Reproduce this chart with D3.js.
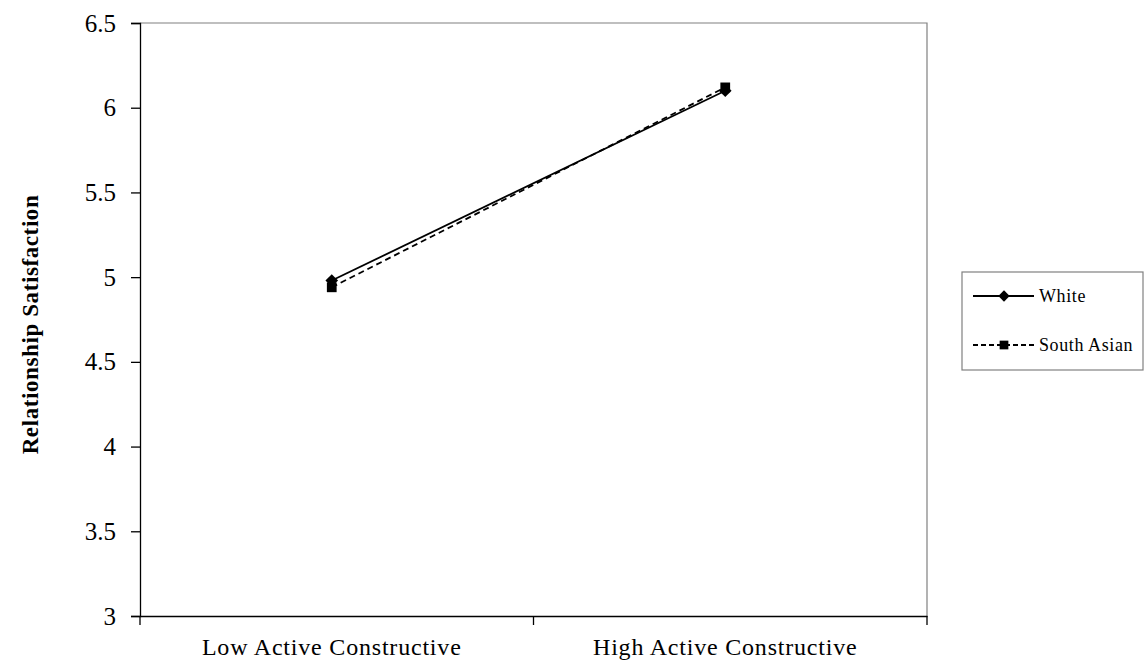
<!DOCTYPE html>
<html><head><meta charset="utf-8">
<script src="https://cdn.jsdelivr.net/npm/d3@7"></script>
<style>body{margin:0;background:#fff}svg{display:block}</style>
</head><body><svg id="c" width="1145" height="666"></svg>
<script>
const categories = ["Low Active Constructive", "High Active Constructive"];
const seriesNames = ["White", "South Asian"];
const whiteValues = [4.98, 6.10];
const southAsianValues = [4.94, 6.12];
const yTicks = [3, 3.5, 4, 4.5, 5, 5.5, 6, 6.5];
const yTitle = "Relationship Satisfaction";

const svg = d3.select("#c");
const L = 140, R = 927, T = 23, B = 616;
const font = "'Liberation Serif','Times New Roman',serif";

const x = d3.scaleBand().domain(categories).range([L, R]).paddingInner(0).paddingOuter(0);
const y = d3.scaleLinear().domain([3, 6.5]).range([B, T]);
const xc = c => x(c) + x.bandwidth() / 2 - 5;

// plot area border (top/right gray)
svg.append("path").attr("d", `M${L},${T}H${R}V${B}`).attr("fill","none").attr("stroke","#808080").attr("stroke-width",1.2);

// y axis
const yAxis = d3.axisLeft(y).tickValues(yTicks).tickSize(9).tickPadding(15)
  .tickFormat(d => String(d));
const gy = svg.append("g").attr("transform", `translate(${L},0)`).call(yAxis);
gy.select(".domain").attr("stroke","#000").attr("stroke-width",1.3);
gy.selectAll(".tick line").attr("stroke","#000").attr("stroke-width",1.3);
gy.selectAll(".tick text").attr("font-family", font).attr("font-size", 25).attr("fill","#000");

// x axis
const xAxis = d3.axisBottom(x).tickSize(0).tickPadding(0);
const gx = svg.append("g").attr("transform", `translate(0,${B})`).call(xAxis);
gx.select(".domain").attr("stroke","#000").attr("stroke-width",1.3);
gx.selectAll(".tick text").attr("font-family", font).attr("font-size", 24).attr("fill","#000")
  .attr("letter-spacing", 0.8).attr("dy", null).attr("y", 39).attr("x", -5);
// category boundary ticks
const bounds = [L, ...categories.slice(1).map(c => x(c)), R];
svg.selectAll(".bt").data(bounds).enter().append("line")
  .attr("x1", d => d).attr("x2", d => d).attr("y1", B).attr("y2", B + 9)
  .attr("stroke","#000").attr("stroke-width",1.3);

// y title
svg.append("text").attr("transform", `translate(38,${(T+B)/2 + 5}) rotate(-90)`)
  .attr("text-anchor","middle").attr("font-family", font).attr("font-size", 23)
  .attr("letter-spacing", 0.6).attr("font-weight","bold").text(yTitle);

const diamond = {draw(ctx, size){ const r = Math.sqrt(size/2); ctx.moveTo(0,-r); ctx.lineTo(r,0); ctx.lineTo(0,r); ctx.lineTo(-r,0); ctx.closePath(); }};
const series = [
  {name: seriesNames[0], values: whiteValues, dash: null, shape: diamond, size: 80},
  {name: seriesNames[1], values: southAsianValues, dash: "6,4", shape: d3.symbolSquare, size: 95}
];
const line = d3.line().x((d,i) => xc(categories[i])).y(d => y(d));
series.forEach(s => {
  svg.append("path").attr("d", line(s.values)).attr("fill","none").attr("stroke","#000")
    .attr("stroke-width",1.8).attr("stroke-dasharray", s.dash);
});
series.slice().reverse().forEach(s => {
  svg.selectAll(null).data(s.values).enter().append("path")
    .attr("d", d3.symbol(s.shape, s.size))
    .attr("transform", (d,i) => `translate(${xc(categories[i])},${y(d)})`)
    .attr("fill","#000");
});

// legend
const lg = svg.append("g");
lg.append("rect").attr("x", 962).attr("y", 272).attr("width", 181).attr("height", 98)
  .attr("fill","#fff").attr("stroke","#808080").attr("stroke-width",1.2);
series.forEach((s, i) => {
  const ly = 296 + i * 49;
  lg.append("line").attr("x1", 973).attr("x2", 1034).attr("y1", ly).attr("y2", ly)
    .attr("stroke","#000").attr("stroke-width",1.8).attr("stroke-dasharray", s.dash ? "5,3" : null);
  lg.append("path").attr("d", d3.symbol(s.shape, s.size * 0.8)).attr("transform", `translate(1004,${ly})`).attr("fill","#000");
  lg.append("text").attr("x", 1039).attr("y", ly + 6).attr("font-family", font).attr("font-size", 18)
    .attr("letter-spacing", 0.6).text(s.name);
});
</script></body></html>
